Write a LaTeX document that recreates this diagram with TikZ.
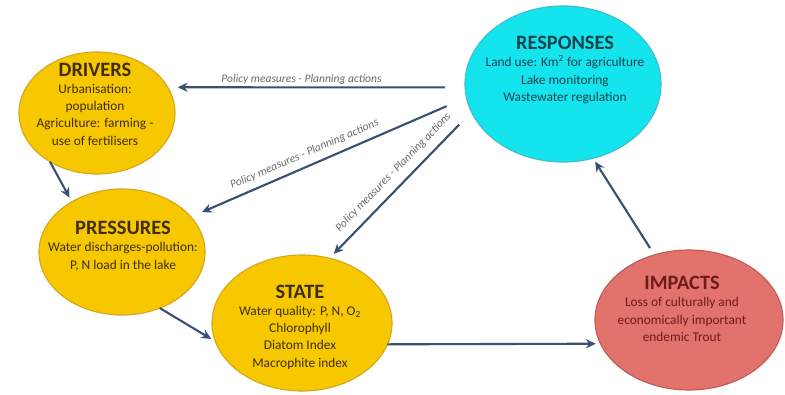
\documentclass[tikz,border=0pt]{standalone}
\usepackage{fontspec}
\setmainfont{Carlito}
\usepackage{tikz}
\usetikzlibrary{shapes.geometric,arrows.meta}

\definecolor{drvyellow}{RGB}{247,199,0}
\definecolor{drvedge}{RGB}{214,168,30}
\definecolor{respcyan}{RGB}{20,228,238}
\definecolor{respedge}{RGB}{60,190,205}
\definecolor{impred}{RGB}{226,114,108}
\definecolor{impedge}{RGB}{196,90,86}
\definecolor{arrowblue}{RGB}{56,80,115}
\definecolor{yeltext}{RGB}{62,46,0}
\definecolor{resptext}{RGB}{22,68,78}
\definecolor{imptext}{RGB}{112,26,26}
\definecolor{policygrey}{RGB}{105,105,105}

\newcommand\titlef[1]{{\fontsize{14.5}{17}\selectfont\bfseries #1}}

\begin{document}
\begin{tikzpicture}[x=0.025cm,y=-0.025cm,
  bubble/.style={ellipse,draw,line width=0.8pt,inner sep=0pt,outer sep=0pt},
  flow/.style={draw=arrowblue,line width=1.5pt,-{Stealth[length=7pt,width=6.5pt]}},
  policy/.style={font=\fontsize{8.2}{9}\selectfont\itshape,text=policygrey,inner sep=1.5pt},
  bodytxt/.style={align=center,font=\fontsize{9.5}{12.3}\selectfont}]
\useasboundingbox (0,0) rectangle (785,395);

% bubbles
\node[bubble,fill=drvyellow,draw=drvedge,minimum width=3.9cm,minimum height=3.05cm] (drivers) at (97,113) {};
\node[bubble,fill=drvyellow,draw=drvedge,minimum width=4.15cm,minimum height=3.15cm] (pressures) at (122,252) {};
\node[bubble,fill=drvyellow,draw=drvedge,minimum width=4.5cm,minimum height=3.4cm] (state) at (302,323) {};
\node[bubble,fill=impred,draw=impedge,minimum width=4.7cm,minimum height=3.5cm] (impacts) at (689,320) {};
\node[bubble,fill=respcyan,draw=respedge,minimum width=4.9cm,minimum height=3.9cm] (responses) at (563,84) {};

% texts
\node[bodytxt,text=yeltext] (driverstxt) at (95,104) {\titlef{DRIVERS}\\Urbanisation:\\population\\Agriculture: farming -\\use of fertilisers};
\node[bodytxt,text=yeltext] (pressurestxt) at (123,246) {\titlef{PRESSURES}\\Water discharges-pollution:\\P, N load in the lake};
\node[bodytxt,text=yeltext] (statetxt) at (300,327) {\titlef{STATE}\\Water quality: P, N, O\textsubscript{2}\\Chlorophyll\\Diatom Index\\Macrophite index};
\node[bodytxt,text=imptext] (impactstxt) at (682,309) {\titlef{IMPACTS}\\Loss of culturally and\\economically  important\\endemic Trout};
\node[bodytxt,text=resptext] (responsestxt) at (565,70) {\titlef{RESPONSES}\\Land use: Km\textsuperscript{2} for agriculture\\Lake monitoring\\Wastewater regulation};

% connectors
\draw[flow,shorten <=0.5cm,shorten >=0.25cm] (responses.182) -- (drivers.20)
  node[policy,pos=0.55,above] {Policy measures - Planning actions};
\draw[flow,shorten <=0.54cm,shorten >=0.3cm] (responses.188) -- (pressures.27)
  node[policy,pos=0.57,above=3pt,sloped] {Policy measures - Planning actions};
\draw[flow,shorten <=0.44cm,shorten >=0.15cm] (responses.197) -- (state.67)
  node[policy,pos=0.48,above=4pt,sloped] {Policy measures - Planning actions};
\draw[flow,shorten >=0.12cm] (drivers.226) -- (pressures.135);
\draw[flow,shorten >=0.12cm] (pressures.304) -- (state.192);
\draw[flow,shorten >=0.12cm] (state.-14) -- (impacts.195);
\draw[flow,shorten <=0.2cm,shorten >=0.1cm] (impacts.118) -- (responses.292);
\end{tikzpicture}
\end{document}
